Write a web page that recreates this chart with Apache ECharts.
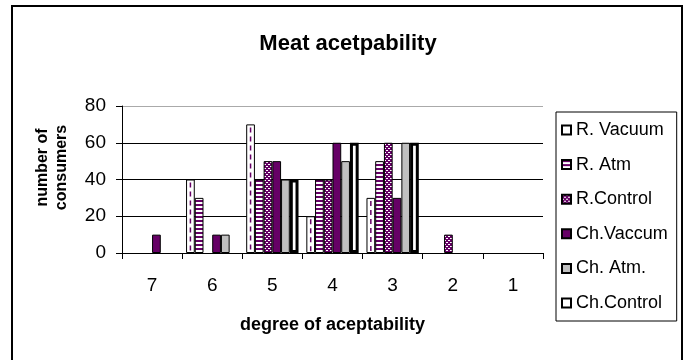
<!DOCTYPE html>
<html>
<head>
<meta charset="utf-8">
<script src="https://cdn.jsdelivr.net/npm/echarts@6/dist/echarts.min.js"></script>
<style>html,body{margin:0;padding:0;background:#fff;}#c{width:688px;height:360px;}</style>
</head>
<body>
<div id="c"></div>
<script>
const categories = ['7', '6', '5', '4', '3', '2', '1'];
const rVacuum   = [0, 40, 70, 20, 30, 0, 0];
const rAtm      = [0, 30, 40, 40, 50, 0, 0];
const rControl  = [0, 0, 50, 40, 60, 10, 0];
const chVaccum  = [10, 10, 50, 60, 30, 0, 0];
const chAtm     = [0, 10, 40, 50, 60, 0, 0];
const chControl = [0, 0, 40, 60, 60, 0, 0];
const seriesNames = ['R. Vacuum', 'R. Atm', 'R.Control', 'Ch.Vaccum', 'Ch. Atm.', 'Ch.Control'];

const PURPLE = '#660066';
const CAT_GAP = 0.13;
const FONT = 'Liberation Sans, Arial, sans-serif';

function makeCanvas(w, h, draw) {
  const c = document.createElement('canvas');
  c.width = w; c.height = h;
  draw(c.getContext('2d'));
  return c;
}
const stripes = makeCanvas(4, 4, g => {
  g.fillStyle = '#fff'; g.fillRect(0, 0, 4, 4);
  g.fillStyle = PURPLE; g.fillRect(0, 0, 4, 2);
});
const dots = makeCanvas(4, 4, g => {
  g.fillStyle = PURPLE; g.fillRect(0, 0, 4, 4);
  g.fillStyle = '#fff'; g.fillRect(0, 0, 2, 1); g.fillRect(2, 2, 2, 1);
});

function bar(name, data, itemStyle) {
  return {
    name, type: 'bar',
    data: data.map(v => (v === 0 ? null : v)),
    barGap: '0%', barCategoryGap: (CAT_GAP * 100) + '%',
    itemStyle: Object.assign({borderColor: '#000', borderWidth: 1}, itemStyle),
    emphasis: {disabled: true}
  };
}

const chart = echarts.init(document.getElementById('c'), null, {renderer: 'canvas'});
chart.setOption({
  animation: false,
  backgroundColor: '#fff',
  title: {
    text: 'Meat acetpability', left: 348, top: 33, textAlign: 'center', padding: 0,
    textStyle: {fontFamily: FONT, fontSize: 22, fontWeight: 'bold', color: '#000'}
  },
  graphic: [{
    type: 'rect', shape: {x: 12, y: 6, width: 670, height: 370},
    style: {fill: 'none', stroke: '#000', lineWidth: 2}, silent: true, z: 100
  }],
  grid: {left: 122, right: 145, top: 106, bottom: 107},
  legend: {
    data: seriesNames, orient: 'vertical', left: 556, top: 112,
    backgroundColor: '#fff', borderColor: '#000', borderWidth: 1,
    padding: [9, 9, 9, 5], itemGap: 16.6, itemWidth: 9, itemHeight: 9,
    icon: 'rect', selectedMode: false,
    textStyle: {fontFamily: FONT, fontSize: 18, lineHeight: 18, color: '#000'}
  },
  xAxis: {
    type: 'category', data: categories,
    name: 'degree of aceptability', nameLocation: 'middle', nameGap: 63,
    nameTextStyle: {fontFamily: FONT, fontSize: 18, fontWeight: 'bold', color: '#000'},
    axisLine: {lineStyle: {color: '#000', width: 1}},
    axisTick: {show: true, length: 6, lineStyle: {color: '#000'}},
    axisLabel: {fontFamily: FONT, fontSize: 19, color: '#000', margin: 23}
  },
  yAxis: {
    type: 'value', min: 0, max: 80, interval: 20,
    name: 'number of\nconsumers', nameLocation: 'middle', nameGap: 51,
    nameTextStyle: {fontFamily: FONT, fontSize: 16, fontWeight: 'bold', color: '#000', lineHeight: 19,
      padding: [0, 0, 0, 24]},
    axisLine: {show: true, lineStyle: {color: '#000', width: 1}},
    axisTick: {show: true, length: 6, lineStyle: {color: '#000'}},
    axisLabel: {fontFamily: FONT, fontSize: 19, color: '#000', margin: 16},
    splitLine: {show: true, lineStyle: {color: ['#000', '#000', '#000', '#000', '#aaa'], width: 1}}
  },
  series: [
    bar(seriesNames[0], rVacuum, {color: '#fff'}),
    bar(seriesNames[1], rAtm, {color: {image: stripes, repeat: 'repeat'}}),
    bar(seriesNames[2], rControl, {color: {image: dots, repeat: 'repeat'}}),
    bar(seriesNames[3], chVaccum, {color: PURPLE}),
    bar(seriesNames[4], chAtm, {color: '#c0c0c0'}),
    bar(seriesNames[5], chControl, {color: '#fff', borderWidth: 3}),
    {
      name: 'rv-dash', type: 'custom', silent: true, z: 3,
      data: rVacuum.map((v, i) => [i, v]),
      renderItem(params, api) {
        const v = api.value(1);
        if (!v) return null;
        const i = api.value(0);
        const top = api.coord([i, v]);
        const base = api.coord([i, 0]);
        const band = api.size([1, 0])[0];
        const bw = band * (1 - CAT_GAP) / 6;
        const x = top[0] - 2.5 * bw;
        return {
          type: 'line',
          shape: {x1: x, y1: top[1] + 3, x2: x, y2: base[1] - 1},
          style: {stroke: PURPLE, lineWidth: 1.5, lineDash: [5, 4]}
        };
      }
    }
  ]
});
</script>
</body>
</html>
